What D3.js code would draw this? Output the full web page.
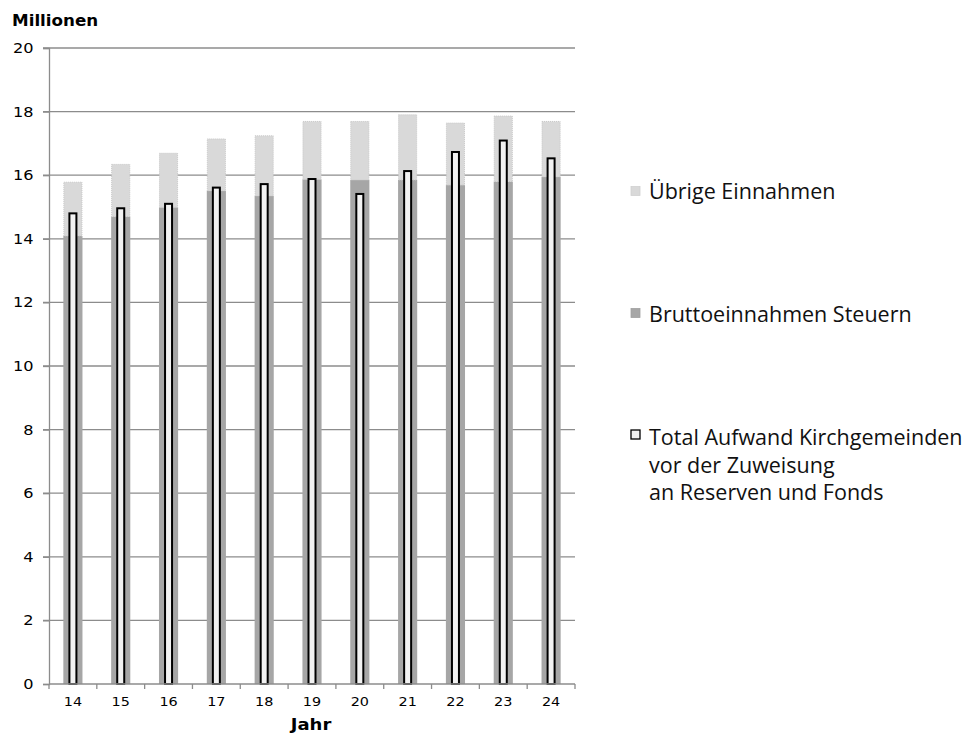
<!DOCTYPE html>
<html>
<head>
<meta charset="utf-8">
<script src="https://cdn.jsdelivr.net/npm/d3@7/dist/d3.min.js"></script>
<style>
html,body{margin:0;padding:0;background:#fff;}
svg{display:block;}
</style>
</head>
<body>
<svg id="chart" width="966" height="733"></svg>
<script>
const years = ["14","15","16","17","18","19","20","21","22","23","24"];
const steuern = [14.09, 14.70, 14.99, 15.51, 15.35, 15.87, 15.85, 15.85, 15.69, 15.80, 15.95];
const totalEinnahmen = [15.78, 16.34, 16.69, 17.14, 17.24, 17.69, 17.69, 17.90, 17.64, 17.86, 17.69];
const aufwand = [14.80, 14.96, 15.10, 15.61, 15.72, 15.88, 15.41, 16.13, 16.73, 17.09, 16.53];
const yTicks = [0, 2, 4, 6, 8, 10, 12, 14, 16, 18, 20];
const legendLabels = [
  ["Übrige Einnahmen"],
  ["Bruttoeinnahmen Steuern"],
  ["Total Aufwand Kirchgemeinden", "vor der Zuweisung", "an Reserven und Fonds"]
];

(function () {
const svg = d3.select("#chart");
const mLeft = 49, mRight = 575, mTop = 48, mBottom = 684;

const x = d3.scaleBand().domain(years).range([mLeft, mRight]).paddingInner(0.6).paddingOuter(0.3);
const xCell = d3.scaleBand().domain(years).range([mLeft, mRight]).padding(0);
const y = d3.scaleLinear().domain([0, 20]).range([mBottom, mTop]);

const axisFont = "DejaVu Sans, Verdana, sans-serif";
const gridColor = "#8c8c8c";

function stretchedText(g, tx, ty, sx, txt) {
  return g.append("text").attr("transform", `translate(${tx},${ty}) scale(${sx},1)`).text(txt);
}

// grid lines
svg.append("g").selectAll("line").data(yTicks.filter(d => d > 0)).join("line")
  .attr("x1", mLeft - 6).attr("x2", mRight)
  .attr("y1", d => y(d)).attr("y2", d => y(d))
  .attr("stroke", gridColor).attr("stroke-width", 1.3);

// y axis (line + ticks via d3 axis, labels stretched)
const yAxis = d3.axisLeft(y).tickValues(yTicks).tickSize(6).tickFormat("");
const gy = svg.append("g").attr("transform", `translate(${mLeft},0)`).call(yAxis);
gy.select(".domain").attr("stroke", gridColor).attr("stroke-width", 1.3);
gy.selectAll(".tick line").attr("stroke", gridColor).attr("stroke-width", 1.3);
const yl = svg.append("g").attr("font-family", axisFont).attr("font-size", 13.7)
  .attr("text-anchor", "end").attr("fill", "#000");
yTicks.forEach(t => stretchedText(yl, 33.5, y(t) + 5, 1.18, t));

// bars: Bruttoeinnahmen Steuern
svg.append("g").selectAll("rect").data(years).join("rect")
  .attr("x", d => x(d)).attr("width", x.bandwidth())
  .attr("y", (d, i) => y(steuern[i])).attr("height", (d, i) => y(0) - y(steuern[i]))
  .attr("fill", "#a6a6a6");

// bars: Übrige Einnahmen stacked
svg.append("g").selectAll("rect").data(years).join("rect")
  .attr("x", d => x(d) + 0.5).attr("width", x.bandwidth() - 1)
  .attr("y", (d, i) => y(totalEinnahmen[i])).attr("height", (d, i) => y(steuern[i]) - y(totalEinnahmen[i]))
  .attr("fill", "#d9d9d9").attr("stroke", "#c8c8c8").attr("stroke-width", 1).attr("stroke-dasharray", "1,1");

// overlay: Total Aufwand
const ow = 7;
svg.append("g").selectAll("rect").data(years).join("rect")
  .attr("x", d => x(d) + x.bandwidth() / 2 - ow / 2).attr("width", ow)
  .attr("y", (d, i) => y(aufwand[i])).attr("height", (d, i) => y(0) - y(aufwand[i]))
  .attr("fill", "#f2f2f2").attr("stroke", "#000").attr("stroke-width", 2);

// x axis
svg.append("line").attr("x1", mLeft).attr("x2", mRight).attr("y1", mBottom).attr("y2", mBottom)
  .attr("stroke", gridColor).attr("stroke-width", 1.3);
const bounds = years.map(d => xCell(d)).concat([mRight]);
svg.append("g").selectAll("line").data(bounds).join("line")
  .attr("x1", d => d).attr("x2", d => d).attr("y1", mBottom).attr("y2", mBottom + 5)
  .attr("stroke", gridColor).attr("stroke-width", 1.3);
const xl = svg.append("g").attr("font-family", axisFont).attr("font-size", 12.2)
  .attr("text-anchor", "middle").attr("fill", "#000");
years.forEach(d => stretchedText(xl, xCell(d) + xCell.bandwidth() / 2, 706, 1.18, d));

// titles
const tg = svg.append("g").attr("font-family", axisFont).attr("font-weight", "bold").attr("fill", "#000");
stretchedText(tg, 12, 25.5, 1.08, "Millionen").attr("font-size", 15.5);
stretchedText(tg, 311, 730, 1.2, "Jahr").attr("font-size", 15).attr("text-anchor", "middle");

// legend
const legendFont = "Open Sans, Noto Sans, sans-serif";
const swY = [191, 313, 434.5];
const txY = [199, 321.5, 445];
const legStyles = [
  {fill: "#d9d9d9", stroke: "#d0d0d0", sw: 0.8},
  {fill: "#a6a6a6", stroke: "#a0a0a0", sw: 0.8},
  {fill: "#f2f2f2", stroke: "#000", sw: 1.3}
];
const lg = svg.append("g");
legendLabels.forEach((lines, i) => {
  lg.append("rect").attr("x", 631).attr("y", swY[i] - 4.5).attr("width", 9).attr("height", 9)
    .attr("fill", legStyles[i].fill).attr("stroke", legStyles[i].stroke).attr("stroke-width", legStyles[i].sw);
  lines.forEach((t, j) => {
    lg.append("text").attr("x", 649).attr("y", txY[i] + j * 27.5)
      .attr("font-family", legendFont).attr("font-size", 21.5).attr("fill", "#111").text(t);
  });
});
})();
</script>
</body>
</html>
